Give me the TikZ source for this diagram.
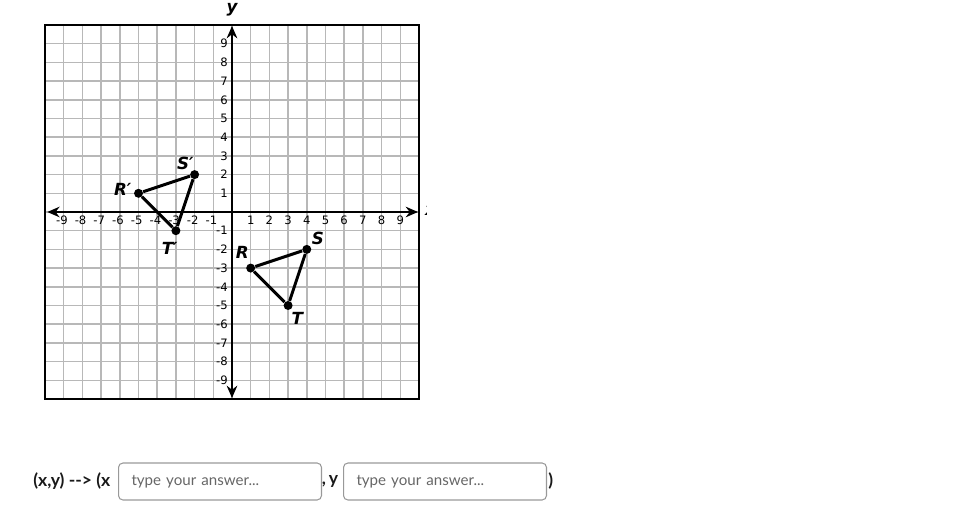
\documentclass[tikz,border=0pt]{standalone}
\usepackage{fontspec}
\usetikzlibrary{arrows.meta,positioning}
\newfontfamily\gridfont{DejaVu Sans}
\newfontfamily\uifont{Lato}

\tikzset{
  gridline/.style={draw=black!28,line width=0.85pt},
  frame/.style={draw=black,line width=1.1pt},
  axis/.style={line width=1.1pt,{Stealth[length=7pt,width=6pt]}-{Stealth[length=7pt,width=6pt]}},
  ticklabel/.style={font=\gridfont\fontsize{6.6}{7}\selectfont,inner sep=1pt},
  vertex/.style={circle,fill=black,inner sep=0pt,minimum size=0.18cm},
  side/.style={line width=1.7pt},
  ptlabel/.style={font=\gridfont\bfseries\itshape\fontsize{9.5}{11}\selectfont,inner sep=0pt},
  uitext/.style={font=\uifont\bfseries\fontsize{10}{12}\selectfont,text=black!90,inner sep=0pt},
  answerbox/.style={draw=black!40,line width=0.6pt,rounded corners=2.5pt,
    minimum width=4.06cm,minimum height=0.74cm,text width=3.54cm,inner xsep=0.26cm,
    align=left,font=\uifont\fontsize{8.6}{10}\selectfont,text=black!60}
}

\begin{document}
\begin{tikzpicture}[x=0.02cm,y=-0.02cm]
\useasboundingbox (0,0) rectangle (971,510);

\begin{scope}[shift={(232,212)},x=0.374cm,y=0.374cm]
  % grid and frame
  \foreach \k in {-9,...,9} {
    \draw[gridline] (\k,-10) -- (\k,10);
    \draw[gridline] (-10,\k) -- (10,\k);
  }
  \draw[frame] (-10,-10) rectangle (10,10);
  \draw[axis] (-9.88,0) -- (9.95,0);
  \draw[axis] (0,-9.95) -- (0,9.95);
  \node[font=\gridfont\bfseries\itshape\fontsize{9.5}{11}\selectfont] (ylab) at (0,10.8) {y};
  \begin{scope}
    \clip (10.15,-1) rectangle (10.4,1);
    \node[font=\gridfont\bfseries\itshape\fontsize{9.5}{11}\selectfont] (xlab) at (10.62,0.05) {x};
  \end{scope}

  % tick numbers
  \foreach \k in {1,...,9} {
    \node[ticklabel,anchor=north] at (\k,-0.12) {\k};
    \node[ticklabel,anchor=north] at (-\k-0.1,-0.12) {-\k};
    \node[ticklabel,anchor=east] at (-0.12,\k) {\k};
    \node[ticklabel,anchor=east] at (-0.12,-\k) {-\k};
  }

  % triangle RST
  \node[vertex] (R) at (1,-3) {};
  \node[vertex] (S) at (4,-2) {};
  \node[vertex] (T) at (3,-5) {};
  \draw[side] (R) -- (S) -- (T) -- (R);
  \node[ptlabel] (Rlab) at (0.55,-2.14) {R};
  \node[ptlabel] (Slab) at (4.6,-1.41) {S};
  \node[ptlabel] (Tlab) at (3.5,-5.7) {T};

  % image R'S'T'
  \node[vertex] (R') at (-5,1) {};
  \node[vertex] (S') at (-2,2) {};
  \node[vertex] (T') at (-3,-1) {};
  \draw[side] (R') -- (S') -- (T') -- (R');
  \node[ptlabel] (R'lab) at (-5.85,1.23) {R′};
  \node[ptlabel] (S'lab) at (-2.5,2.6) {S′};
  \node[ptlabel] (T'lab) at (-3.33,-1.95) {T′};
\end{scope}

% answer line
\node[uitext,anchor=west] (rule) at (33,481) {(x,y) --> (x};
\node[answerbox,anchor=west] (xbox) at (118,481.5) {type your answer...};
\node[uitext,anchor=west] (ycomma) at (321.5,481) {,\,y};
\node[answerbox,anchor=west] (ybox) at (343,481.5) {type your answer...};
\node[uitext,anchor=west] (close) at (548,481) {)};
\end{tikzpicture}
\end{document}
